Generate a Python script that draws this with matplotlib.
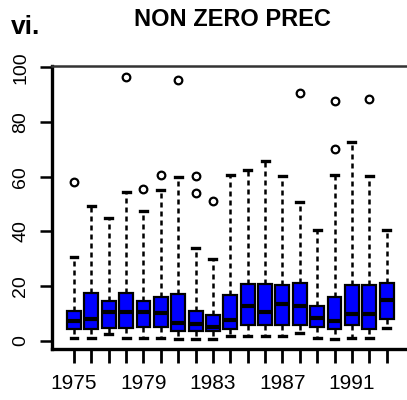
import matplotlib
matplotlib.use('Agg')
import matplotlib.pyplot as plt

# Boxplot of non zero precipitation per year
years = [1975, 1976, 1977, 1978, 1979, 1980, 1981, 1982, 1983, 1984,
         1985, 1986, 1987, 1988, 1989, 1990, 1991, 1992, 1993]
shown_years = [1975, 1979, 1983, 1987, 1991]

whislo = [1.2, 1.2, 2.6, 1.2, 1.2, 1.2, 0.8, 0.8, 0.8, 1.6,
          1.6, 1.6, 1.6, 2.7, 1.2, 0.8, 0.9, 1.2, 4.5]
q1 = [4.2, 4.2, 4.8, 4.8, 5.1, 5.1, 3.5, 3.6, 3.5, 4.2,
      5.7, 5.7, 5.6, 5.6, 5.2, 4.2, 5.6, 4.2, 8.0]
med = [7.1, 8.0, 10.6, 10.6, 10.6, 10.0, 6.5, 6.0, 5.1, 7.6,
       12.7, 10.6, 13.5, 12.7, 8.5, 7.1, 9.9, 9.7, 15.1]
q3 = [11.0, 17.6, 14.5, 17.6, 14.5, 16.1, 17.0, 11.0, 9.6, 16.7,
      20.6, 20.6, 20.5, 21.2, 12.7, 16.1, 20.3, 20.3, 21.1]
whishi = [30.5, 49.4, 45.0, 54.6, 47.4, 55.2, 60.0, 34.0, 29.9, 60.6,
          62.6, 65.6, 60.3, 50.8, 40.6, 60.5, 72.8, 60.3, 40.6]
fliers = [[58.2], [], [], [96.5], [55.6], [60.7], [95.3], [60.2, 54.0],
          [51.0], [], [], [], [], [90.8], [], [87.8, 70.1], [], [88.6], []]

stats = []
for i in range(len(years)):
    stats.append({'med': med[i], 'q1': q1[i], 'q3': q3[i],
                  'whislo': whislo[i], 'whishi': whishi[i],
                  'fliers': fliers[i], 'label': str(years[i])})

positions = list(range(1, len(years) + 1))

fig = plt.figure(figsize=(4.07, 4.0), dpi=100)
ax = fig.add_axes([52.1 / 407, 51 / 400, 356.4 / 407, 283 / 400])

ax.bxp(stats, positions=positions, widths=0.8, capwidths=0.4,
       patch_artist=True, showfliers=True,
       boxprops=dict(facecolor='#0000ff', edgecolor='black', linewidth=1.6),
       whiskerprops=dict(color='black', linestyle=(0, (2, 1.6)), linewidth=1.8),
       capprops=dict(color='black', linewidth=2.4),
       medianprops=dict(color='black', linewidth=3.0, solid_capstyle='butt'),
       flierprops=dict(marker='o', markerfacecolor='none', markeredgecolor='black',
                       markersize=5.5, markeredgewidth=1.6))

ax.set_xlim(-0.26, len(years) + 1.26)
ax.set_ylim(-3, 100.5)

tick_font = ['Liberation Sans', 'DejaVu Sans']
ax.set_xticks(positions)
ax.set_xticklabels([str(y) if y in shown_years else '' for y in years],
                   family=tick_font, fontsize=15)
ax.set_yticks([0, 20, 40, 60, 80, 100])
ax.set_yticklabels(['0', '20', '40', '60', '80', '100'],
                   family=tick_font, fontsize=14, rotation=90, va='center')

ax.tick_params(axis='x', length=10, width=2.0, pad=8, color='black')
ax.tick_params(axis='y', length=8.6, width=1.8, pad=8, color='black')

for side in ['left', 'bottom']:
    ax.spines[side].set_linewidth(2.4)
ax.spines['top'].set_linewidth(1.8)
ax.spines['top'].set_color('#333333')
ax.spines['right'].set_linewidth(1.8)

fig.text(232 / 407, 1 - 25.5 / 400, 'NON ZERO PREC', fontsize=17, fontweight='bold',
         family=['Liberation Sans', 'DejaVu Sans'], ha='center', va='baseline')
fig.text(11 / 407, 1 - 34 / 400, 'vi.', fontsize=19, fontweight='bold',
         family=['Liberation Sans', 'DejaVu Sans'], ha='left', va='baseline')

fig.savefig('out.png', dpi=100)
